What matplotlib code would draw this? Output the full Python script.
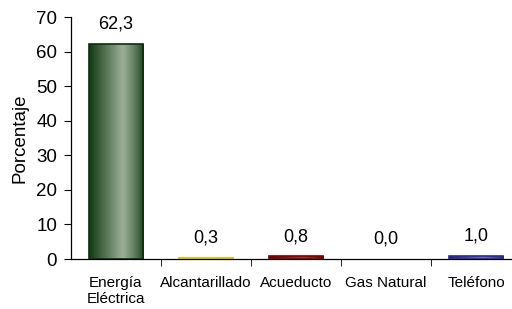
import numpy as np
import matplotlib.pyplot as plt
from matplotlib.colors import LinearSegmentedColormap
from matplotlib.patches import Rectangle

categorias = ["Energía\nEléctrica", "Alcantarillado", "Acueducto", "Gas Natural", "Teléfono"]
porcentajes = [62.3, 0.3, 0.8, 0.0, 1.0]
etiquetas = ["62,3", "0,3", "0,8", "0,0", "1,0"]
yticks = [0, 10, 20, 30, 40, 50, 60, 70]

colores = [
    ("#123a12", "#9aae96"),
    ("#d9a800", "#ffe070"),
    ("#6a0000", "#b03030"),
    ("#555555", "#bbbbbb"),
    ("#20208a", "#6a6ad0"),
]
bordes = ["#0e2e0e", "#e0b000", "#7a0000", "#444444", "#2a2a90"]

plt.rcParams["font.family"] = ["Liberation Sans", "DejaVu Sans"]

fig = plt.figure(figsize=(5.12, 3.09), dpi=100)
ax = fig.add_axes([71 / 512, 1 - 259 / 309, 450 / 512, 242 / 309])

ancho = 0.61
x = np.arange(len(categorias))
bars = ax.bar(x, porcentajes, width=ancho, color="none", edgecolor="none", zorder=2)

# cylinder-like shading across each bar
perfil = np.concatenate([np.linspace(0, 1, 40), np.linspace(1, 0, 25) ** 0.7])
grad = perfil[np.newaxis, :]
for b, (oscuro, claro), borde, v in zip(bars, colores, bordes, porcentajes):
    if v <= 0:
        continue
    cmap = LinearSegmentedColormap.from_list("c", [oscuro, claro])
    x0, w, h = b.get_x(), b.get_width(), b.get_height()
    im = ax.imshow(grad, cmap=cmap, aspect="auto", extent=[x0, x0 + w, 0, h],
                   zorder=2, interpolation="bilinear")
    rect = Rectangle((x0, 0), w, h, transform=ax.transData)
    im.set_clip_path(rect)
    ax.add_patch(Rectangle((x0, 0), w, h, fill=False, edgecolor=borde, lw=1.2, zorder=3))

for xi, v, t in zip(x, porcentajes, etiquetas):
    ax.annotate(t, (xi, v), xytext=(0, 8), textcoords="offset points",
                ha="center", va="bottom", fontsize=13)

ax.set_xlim(-0.5, 4.5)
ax.set_ylim(0, 70)
ax.set_yticks(yticks)
ax.tick_params(axis="y", labelsize=13.5, length=5, direction="out", pad=5)
ax.set_xticks(x)
ax.set_xticklabels(categorias, fontsize=11)
ax.tick_params(axis="x", length=0, pad=12)
ax.set_xticks(np.arange(0.5, 4.5, 1), minor=True)
ax.tick_params(axis="x", which="minor", length=5, direction="out")
ax.set_ylabel("Porcentaje", fontsize=13.5)
ax.yaxis.set_label_coords(-0.095, 0.5)

for s in ["top", "right"]:
    ax.spines[s].set_visible(False)
for s in ["left", "bottom"]:
    ax.spines[s].set_linewidth(0.9)

fig.savefig("out.png", dpi=100)
